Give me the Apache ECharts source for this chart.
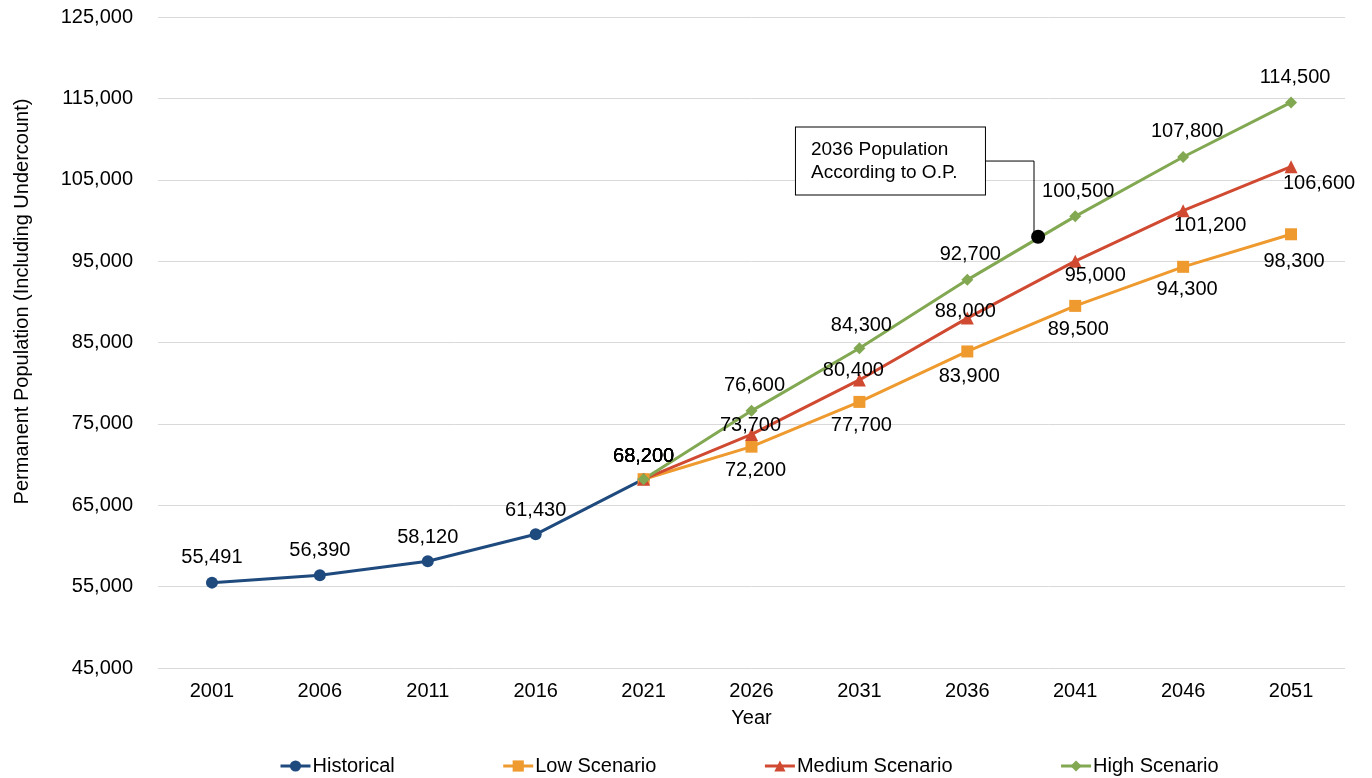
<!DOCTYPE html>
<html>
<head>
<meta charset="utf-8">
<script src="https://cdn.jsdelivr.net/npm/echarts@6/dist/echarts.min.js"></script>
<style>
html,body{margin:0;padding:0;background:#fff;}
#chart{width:1372px;height:778px;}
</style>
</head>
<body>
<div id="chart"></div>
<script>
// ---- data ----
const years = ['2001','2006','2011','2016','2021','2026','2031','2036','2041','2046','2051'];
const historical = [55491, 56390, 58120, 61430, 68200, null, null, null, null, null, null];
const lowScenario = [null, null, null, null, 68200, 72200, 77700, 83900, 89500, 94300, 98300];
const mediumScenario = [null, null, null, null, 68200, 73700, 80400, 88000, 95000, 101200, 106600];
const highScenario = [null, null, null, null, 68200, 76600, 84300, 92700, 100500, 107800, 114500];
const yTicks = {min: 45000, max: 125000, step: 10000};
// annotation (year position on a continuous scale, population value)
const opPoint = [2039.28, 98000];
const opConnector = [[2036.82, 107300], [2039.09, 107300], [2039.09, 98000]];
const opBoxAnchor = [2028.06, 107300];
const opText = ['2036 Population', 'According to O.P.'];

// ---- label offsets (style) ----
const histOffsets = [[0,-25],[0,-25],[0,-24],[0,-24],[0,-23]];
const lowOffsets = [null,null,null,null,[0,-23],[4,24],[2,24],[2,25],[3,24],[4,23],[3,27]];
const medOffsets = [null,null,null,null,[0,-23],[-1,-9],[-6,-9],[-2,-7],[20,14],[27,15],[28,17]];
const highOffsets = [null,null,null,null,[0,-23],[3,-25],[2,-23],[3,-25],[3,-25],[4,-25],[4,-25]];

const FONT = '"Liberation Sans", Arial, sans-serif';
const fmt = v => Number(v).toLocaleString('en-US');

function build(values, offsets) {
  return values.map((v, i) => v == null ? null : {
    value: v,
    label: {offset: offsets[i] || [0, -25]}
  });
}

function lineSeries(name, values, offsets, color, symbol, size) {
  return {
    name: name,
    type: 'line',
    data: build(values, offsets),
    symbol: symbol,
    symbolSize: size,
    showAllSymbol: true,
    itemStyle: {color: color},
    lineStyle: {color: color, width: 3},
    label: {
      show: true,
      position: 'inside',
      color: '#000',
      fontSize: 20,
      fontFamily: FONT,
      formatter: p => fmt(p.value)
    },
    emphasis: {disabled: true}
  };
}

const chart = echarts.init(document.getElementById('chart'), null, {renderer: 'canvas'});
chart.setOption({
  animation: false,
  backgroundColor: '#fff',
  grid: {left: 158, right: 27, top: 17, bottom: 110, containLabel: false},
  legend: {
    data: ['Historical', 'Low Scenario', 'Medium Scenario', 'High Scenario'],
    left: 274,
    top: 751,
    itemWidth: 30,
    itemHeight: 14,
    itemGap: 107,
    lineStyle: {width: 3},
    textStyle: {fontSize: 20, fontFamily: FONT, color: '#000', padding: [0,0,0,-3]}
  },
  xAxis: [{
    type: 'category',
    data: years,
    boundaryGap: true,
    name: 'Year',
    nameLocation: 'middle',
    nameGap: 40,
    nameTextStyle: {fontSize: 20, fontFamily: FONT, color: '#000'},
    axisLine: {show: false},
    axisTick: {show: false},
    axisLabel: {fontSize: 20, fontFamily: FONT, color: '#000', margin: 13},
    splitLine: {show: false}
  }, {
    type: 'value',
    min: 1998.5,
    max: 2053.5,
    show: false
  }],
  yAxis: {
    type: 'value',
    min: yTicks.min,
    max: yTicks.max,
    interval: yTicks.step,
    name: 'Permanent Population (Including Undercount)',
    nameLocation: 'middle',
    nameGap: 126,
    nameTextStyle: {fontSize: 20, fontFamily: FONT, color: '#000', padding: [0, 0, 0, 82]},
    axisLine: {show: false},
    axisTick: {show: false},
    axisLabel: {fontSize: 20, fontFamily: FONT, color: '#000', margin: 25, formatter: v => fmt(v)},
    splitLine: {show: true, lineStyle: {color: '#D9D9D9', width: 1}}
  },
  series: [
    lineSeries('Historical', historical, histOffsets, '#1F4A7E', 'circle', 12),
    lineSeries('Low Scenario', lowScenario, lowOffsets, '#EE9A2E', 'rect', 12),
    lineSeries('Medium Scenario', mediumScenario, medOffsets, '#D04A32', 'triangle', 13),
    lineSeries('High Scenario', highScenario, highOffsets, '#82A852', 'diamond', 12),
    {
      name: 'connector',
      type: 'line',
      xAxisIndex: 1,
      data: opConnector,
      symbol: 'none',
      lineStyle: {color: '#000', width: 1},
      z: 5,
      silent: true
    },
    {
      name: 'opPoint',
      type: 'scatter',
      xAxisIndex: 1,
      data: [opPoint],
      symbol: 'circle',
      symbolSize: 14,
      itemStyle: {color: '#000', opacity: 1},
      z: 6,
      silent: true
    },
    {
      name: 'opBox',
      type: 'scatter',
      xAxisIndex: 1,
      data: [opBoxAnchor],
      symbolSize: 0,
      z: 7,
      silent: true,
      itemStyle: {opacity: 1},
      label: {
        show: true,
        position: 'right',
        distance: 0,
        formatter: opText.join('\n'),
        fontSize: 19,
        lineHeight: 23,
        fontFamily: FONT,
        color: '#000',
        backgroundColor: '#fff',
        borderColor: '#000',
        borderWidth: 1,
        width: 159,
        padding: [9, 15, 12, 15]
      }
    }
  ]
});
</script>
</body>
</html>
